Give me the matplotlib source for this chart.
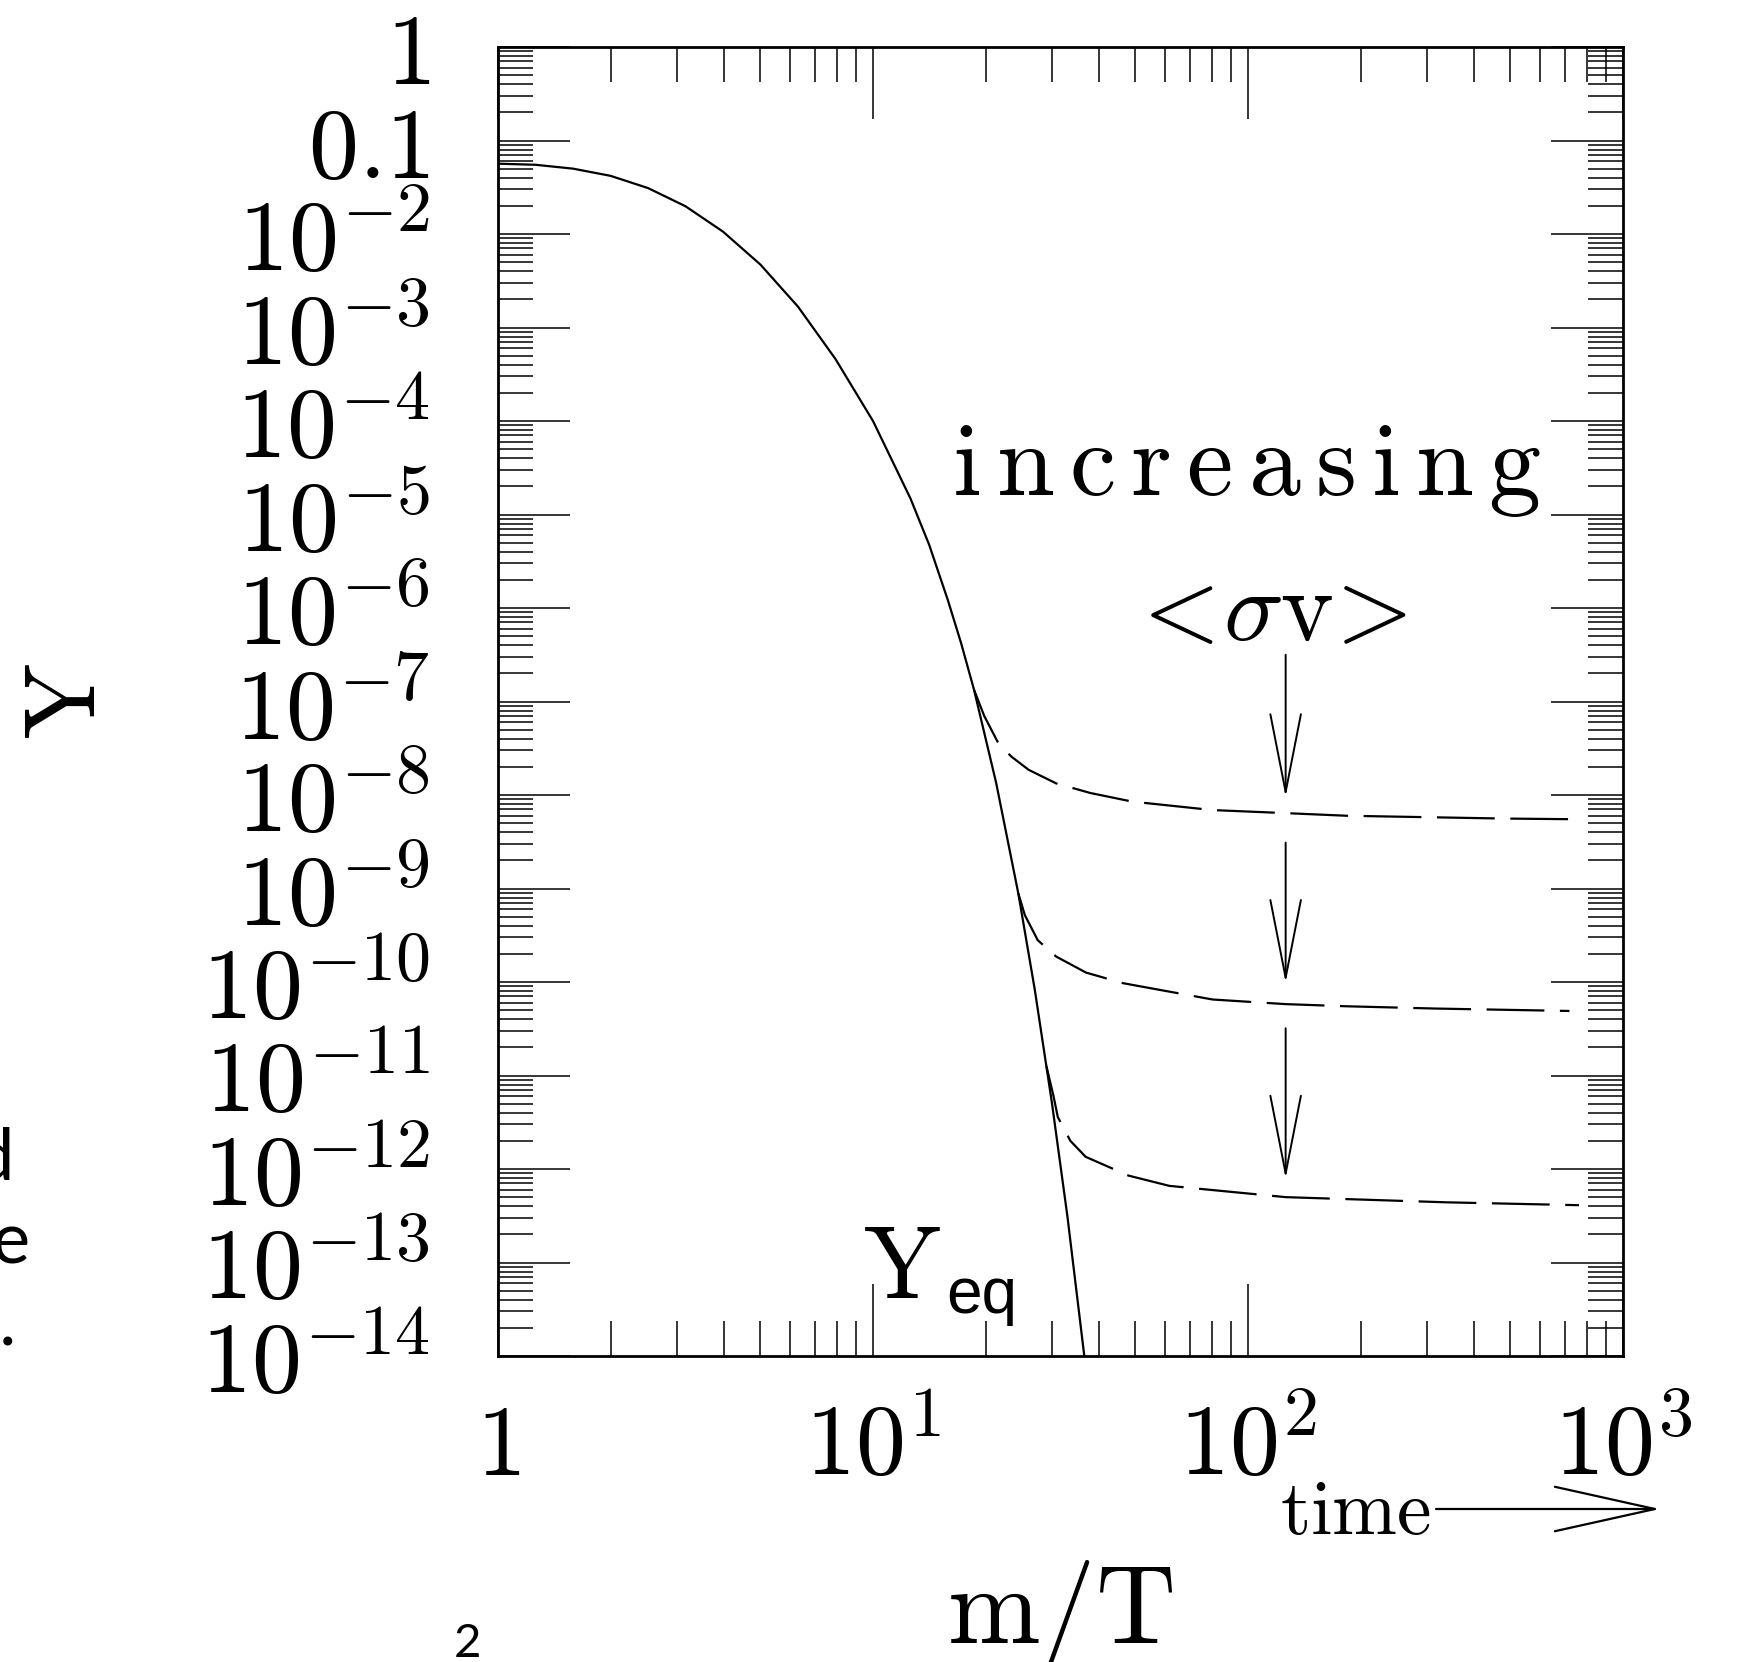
import matplotlib
matplotlib.use("Agg")
import matplotlib.pyplot as plt
from matplotlib.ticker import FixedLocator, FixedFormatter, LogLocator, NullFormatter
import numpy as np

plt.rcParams['mathtext.fontset'] = 'cm'
plt.rcParams['font.family'] = ['DejaVu Serif']

# ---------------- data ----------------
x_eq = [1, 1.259, 1.585, 1.995, 2.512, 3.162, 3.981, 5.012, 6.31, 7.943, 10.0, 12.59,
        14.13, 15.85, 17.18, 18.6, 21.3, 24.4, 27.0, 30.0, 33.0, 36.6]
y_eq = [5.65e-2, 5.5e-2, 5.0e-2, 4.19e-2, 3.1e-2, 1.98e-2, 1.06e-2, 4.7e-3, 1.67e-3, 4.6e-4,
        1.0e-4, 1.48e-5, 4.7e-6, 1.2e-6, 4.2e-7, 1.33e-7, 1.35e-8, 8.9e-10, 8.3e-11, 5.1e-12,
        3.1e-13, 1.0e-14]

x_d1 = [18.6, 19.8, 21.6, 23.4, 26.0, 30.8, 38.0, 49.1, 80.4, 126, 183, 478, 762]
y_d1 = [1.33e-7, 7.0e-8, 3.57e-8, 2.57e-8, 1.86e-8, 1.33e-8, 1.05e-8, 8.5e-9, 6.9e-9,
        6.4e-9, 6.0e-9, 5.6e-9, 5.5e-9]

x_d2 = [24.4, 25.4, 27.5, 30.8, 37.0, 46.5, 80.4, 126, 183, 316, 720]
y_d2 = [8.9e-10, 5.2e-10, 2.8e-10, 1.87e-10, 1.26e-10, 9.7e-11, 6.5e-11, 5.8e-11, 5.5e-11,
        5.2e-11, 4.9e-11]

x_d3 = [29.0, 30.3, 31.1, 33.6, 36.9, 48.0, 61.7, 126, 340, 763]
y_d3 = [1.26e-11, 6.0e-12, 3.6e-12, 2.0e-12, 1.35e-12, 8.5e-13, 6.6e-13, 5.0e-13, 4.4e-13, 4.1e-13]

arrow_x = [126, 126, 126]
arrow_top = [3.16e-7, 3.1e-9, 3.2e-11]
arrow_tip = [9.5e-9, 9.8e-11, 7.9e-13]

xticks = [1, 10, 100, 1000]
xticklabels = [r'$1$', r'$10^{1}$', r'$10^{2}$', r'$10^{3}$']
yticks = [10.0 ** (-k) for k in range(0, 15)]
yticklabels = [r'$1$', r'$0.1$'] + [r'$10^{-%d}$' % k for k in range(2, 15)]

# ---------------- figure ----------------
W, H = 1746, 1662
fig = plt.figure(figsize=(W / 100, H / 100), dpi=100)
L, R, T, B = 498, 1623, 47, 1356
ax = fig.add_axes([L / W, (H - B) / H, (R - L) / W, (B - T) / H])
ax.set_xscale('log')
ax.set_yscale('log')
ax.set_xlim(1, 1000)
ax.set_ylim(1e-14, 1)

ax.plot(x_eq, y_eq, color='black', lw=1.6, solid_joinstyle='round')
for xs, ys in [(x_d1, y_d1), (x_d2, y_d2), (x_d3, y_d3)]:
    ax.plot(xs, ys, color='black', lw=1.6, dashes=(26, 7), dash_joinstyle='round')

for xa, yt, yb in zip(arrow_x, arrow_top, arrow_tip):
    ax.annotate('', xy=(xa, yb), xytext=(xa, yt),
                arrowprops=dict(arrowstyle='->, head_length=2.8, head_width=0.55',
                                lw=1.4, color='black', shrinkA=0, shrinkB=0,
                                mutation_scale=20))

ax.xaxis.set_major_locator(FixedLocator(xticks))
ax.xaxis.set_major_formatter(FixedFormatter(xticklabels))
ax.xaxis.set_minor_locator(LogLocator(base=10, subs=np.arange(2, 10), numticks=100))
ax.xaxis.set_minor_formatter(NullFormatter())
ax.yaxis.set_major_locator(FixedLocator(yticks))
ax.yaxis.set_major_formatter(FixedFormatter(yticklabels))
ax.yaxis.set_minor_locator(LogLocator(base=10, subs=np.arange(2, 10), numticks=200))
ax.yaxis.set_minor_formatter(NullFormatter())

ax.tick_params(which='major', direction='in', length=52, width=1.1, top=True, right=True,
               labelsize=72)
ax.tick_params(which='minor', direction='in', length=25, width=1.1, top=True, right=True)
ax.tick_params(axis='y', which='major', pad=49)
ax.tick_params(axis='x', which='major', pad=32)
for s in ax.spines.values():
    s.set_linewidth(2.0)

ax.set_xlabel(r'$\mathrm{m/T}$', fontsize=80)
ax.xaxis.set_label_coords(0.5, -0.2193)
ax.xaxis.label.set_va('baseline')
ax.set_ylabel(r'$\mathrm{Y}$', fontsize=72)
ax.yaxis.set_label_coords((67 - L) / (R - L), 0.5)
ax.yaxis.label.set_va('center')

# annotations
ax.text((1247 - L) / (R - L), (B - 495) / (B - T),
        r'$\mathrm{i\,n\,c\,r\,e\,a\,s\,i\,n\,g}$', transform=ax.transAxes, fontsize=75,
        ha='center', va='baseline')
ax.text((1266 - L) / (R - L), (B - 640) / (B - T), r'$<\!\sigma\mathrm{v}\!>$',
        transform=ax.transAxes, fontsize=72, ha='center', va='baseline')
ax.text((902 - L) / (R - L), (B - 1297) / (B - T), r'$\mathrm{Y}$', transform=ax.transAxes,
        fontsize=74, ha='center', va='baseline')
ax.text((982 - L) / (R - L), (B - 1313) / (B - T), 'eq', transform=ax.transAxes,
        fontsize=46, ha='center', va='baseline', family='Liberation Sans')

# time arrow
ax.text((1431 - L) / (R - L), (B - 1534) / (B - T), r'$\mathrm{time}$', transform=ax.transAxes,
        fontsize=56, ha='right', va='baseline')
ax.annotate('', xy=((1660 - L) / (R - L), (B - 1509) / (B - T)),
            xytext=((1436 - L) / (R - L), (B - 1509) / (B - T)),
            xycoords='axes fraction', textcoords='axes fraction', annotation_clip=False,
            arrowprops=dict(arrowstyle='->, head_length=3.6, head_width=0.8', lw=1.6,
                            color='black', shrinkA=0, shrinkB=0, mutation_scale=20))

# slide fragments
frag_kw = dict(fontsize=52, family='Lato', ha='right', va='baseline', color='black')
fig.text(14 / W, (H - 1180) / H, 'd', **frag_kw)
fig.text(30 / W, (H - 1263) / H, 'e', **frag_kw)
fig.text(16 / W, (H - 1345) / H, 'y.', **frag_kw)
fig.text(467 / W, (H - 1657) / H, '2', fontsize=34, family='Lato',
         ha='center', va='baseline', color='black')

fig.savefig('out.png', dpi=100)
